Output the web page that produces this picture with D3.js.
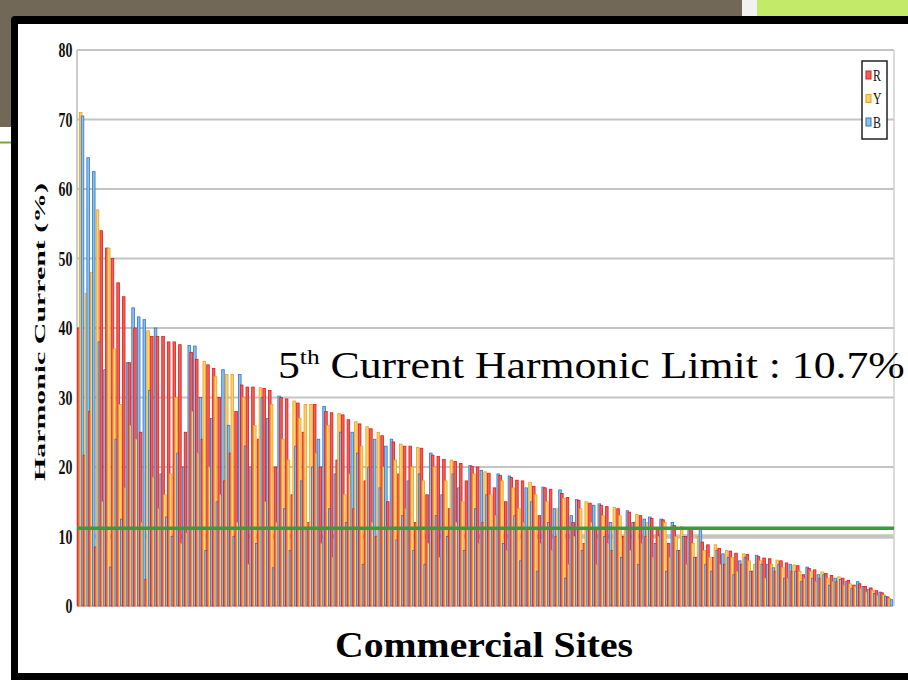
<!DOCTYPE html>
<html><head><meta charset="utf-8">
<script src="https://cdn.jsdelivr.net/npm/d3@7"></script>
<style>body{margin:0;background:#fff}svg{display:block}text{font-family:'Liberation Serif','Times New Roman',serif}</style>
</head><body><svg id="c" width="908" height="680"></svg>
<script>
// Harmonic current (%) per commercial site, phases R, Y, B (sorted by largest phase)
const R = [
 40, 21.7, 28, 8.5, 54, 51.5, 50, 46.5, 44.5, 35,
 40, 25, 3.8, 38.8, 38.8, 38.8, 38, 38, 37.6, 25,
 36.5, 35.5, 24, 34.7, 34.2, 30, 18, 22, 28, 31.8,
 31.5, 31.5, 24, 31.3, 31, 20, 30, 29.8, 16, 29.2,
 25, 12, 29, 20, 28, 27.8, 21, 27.5, 26.8, 14,
 26.2, 18, 25.5, 10, 24.5, 15, 23.6, 19, 23, 23,
 12, 22.7, 16, 21.7, 21.5, 21.1, 14, 20.8, 20.5, 18,
 20.1, 20, 12, 19.1, 17, 18.8, 15, 18.5, 18.1, 18,
 11, 17.2, 13, 17, 16.8, 10, 16.2, 15.6, 12, 15.2,
 9, 14.8, 11, 14.5, 14.3, 8, 14, 10, 13.5, 12,
 13, 10, 12.6, 11, 12.4, 9, 11.6, 8, 10, 11.3,
 7, 9.2, 8.8, 7, 8.3, 6, 7.9, 7.6, 6, 7.4,
 5, 7.1, 6.9, 6.8, 5, 6.5, 6.2, 5, 5.8, 4.5,
 5.4, 5.2, 4, 4.7, 4.4, 3.5, 4, 3.7, 3, 3.2,
 2.8, 2.6, 2.2, 1.9, 1.3
];
const Y = [
 71, 45, 48, 57, 15, 51.5, 37, 29, 17, 26,
 24, 12, 39.6, 18.5, 14, 16, 19, 30, 9, 10.5,
 28, 22, 35.2, 20, 33, 16, 33.3, 33.3, 12, 30,
 6, 26, 31.4, 15, 29, 12, 24, 21, 29.5, 27,
 29, 29, 22, 9, 26, 7, 27.7, 16, 19, 26.5,
 23, 25.8, 12, 25, 20, 11, 21, 23.3, 14, 20,
 22.8, 18, 9, 20, 7, 18, 21, 12, 15, 11,
 19, 9, 19.3, 16, 13, 18, 8, 17, 14, 12,
 17.8, 16, 9, 15, 8, 14, 15.5, 6, 10, 14,
 15, 12, 6, 13, 9, 14.2, 13, 11, 8, 13.2,
 9, 12, 7, 10, 12, 7, 10, 11.4, 6, 9,
 10, 8, 7, 8.8, 6, 8, 7, 5, 7.5, 6.5,
 6, 6.5, 4, 6, 6.6, 5.5, 4, 5.9, 5, 4,
 5, 3.5, 4.9, 4, 3.5, 4.2, 3, 3.2, 2.8, 2.5,
 2, 2.2, 1.5, 1.6, 1.1
];
const B = [
 70.5, 64.5, 62.5, 38, 34, 5.6, 24, 12.5, 35, 42.9,
 41.6, 41.2, 31, 40, 19, 12.8, 10, 22, 20, 37.5,
 37.4, 30, 8, 27, 15, 34, 26, 10, 33.3, 23,
 20, 9, 30, 27, 5.5, 30.2, 14, 8, 23, 18,
 11, 20, 24, 28.7, 14, 19, 25, 12, 25, 22,
 6, 20, 24, 17, 23, 24, 9.5, 13, 18, 8,
 19, 6, 22, 13, 16, 10, 19, 17, 8, 20.2,
 14, 19.5, 16, 11, 19, 9, 18.7, 13, 6.5, 17,
 15, 5, 17.1, 12, 14, 16.7, 4, 13, 15.3, 8,
 11, 14.5, 14.7, 10, 12, 11, 7, 13.7, 12, 6,
 12.5, 12.8, 9, 12.5, 5, 12, 8, 10, 11.3, 7,
 11.2, 6, 5, 8, 7.5, 7, 4.5, 6.5, 7, 5,
 7.3, 6, 6, 5.5, 6, 4, 6, 5, 3.5, 5.6,
 4, 4.5, 4.5, 3, 4, 3.8, 3.5, 2.5, 3.5, 2.8,
 2.4, 1.8, 2, 1.4, 0.9
];
const seriesNames = ["R", "Y", "B"];
const yTicks = [0, 10, 20, 30, 40, 50, 60, 70, 80];
const limitLine = 11.2;
const sites = R.map((_, i) => "Site " + (i + 1));

const colors = {
  R: {fill: "#f0605a", stroke: "#e01a16"},
  Y: {fill: "#fad36a", stroke: "#ef9c22"},
  B: {fill: "#8cc0ee", stroke: "#2f74c4"}
};
const values = {R, Y, B};

const svg = d3.select("#c");
// slide decoration
svg.append("rect").attr("x", 0).attr("y", 0).attr("width", 742).attr("height", 127).attr("fill", "#716857");
svg.append("rect").attr("x", 742).attr("y", 0).attr("width", 15).attr("height", 20).attr("fill", "#f1f1f1");
svg.append("rect").attr("x", 757).attr("y", 0).attr("width", 151).attr("height", 20).attr("fill", "#c3ea68");
svg.append("line").attr("x1", 0).attr("x2", 14).attr("y1", 142.5).attr("y2", 142.5).attr("stroke", "#7ea43a").attr("stroke-width", 2);
// frame
svg.append("rect").attr("x", 11).attr("y", 16).attr("width", 960).attr("height", 700).attr("rx", 4).attr("fill", "#000");
svg.append("rect").attr("x", 18).attr("y", 24).attr("width", 950).attr("height", 649).attr("fill", "#fff");

const x0 = 77, x1 = 894, yTop = 50, yBot = 606;
const y = d3.scaleLinear().domain([0, 80]).range([yBot, yTop]);
const x = d3.scaleBand().domain(sites).range([x0 + 0.5, x1 - 2]);
const xs = d3.scaleBand().domain(seriesNames).range([0, x.bandwidth()]);

// gridlines
svg.append("g").selectAll("line").data(yTicks.filter(d => d > 0)).join("line")
  .attr("x1", x0).attr("x2", x1).attr("y1", d => y(d)).attr("y2", d => y(d))
  .attr("stroke", "#c4c4c4").attr("stroke-width", d => d === 10 ? 4.5 : 2);
svg.append("line").attr("x1", x0).attr("x2", x0).attr("y1", yTop).attr("y2", yBot).attr("stroke", "#bdbdbd").attr("stroke-width", 1.5);
svg.append("line").attr("x1", x1).attr("x2", x1).attr("y1", yTop).attr("y2", yBot).attr("stroke", "#cfcfcf").attr("stroke-width", 1.5);

// axis labels
const ax = svg.append("g").attr("transform", `translate(${x0},0)`)
  .call(d3.axisLeft(y).tickValues(yTicks).tickSize(0).tickPadding(7).tickFormat(d3.format("d")));
ax.select(".domain").remove();
ax.selectAll("text").style("font-family", "'Liberation Serif', serif").attr("font-weight", "bold")
  .attr("font-size", 21).attr("fill", "#111").attr("transform", "scale(0.66,1)");

// bars (clustered, slight overlap)
const w = xs.bandwidth() + 0.7;
const barData = [];
sites.forEach((s, i) => seriesNames.forEach(k => barData.push({site: s, key: k, v: values[k][i]})));
svg.append("g").selectAll("rect").data(barData).join("rect")
  .attr("x", d => x(d.site) + xs(d.key))
  .attr("y", d => y(d.v))
  .attr("width", w)
  .attr("height", d => y(0) - y(d.v))
  .attr("fill", d => colors[d.key].fill)
  .attr("stroke", d => colors[d.key].stroke)
  .attr("stroke-width", 0.8);

// limit line
svg.append("line").attr("x1", x0).attr("x2", x1).attr("y1", y(limitLine)).attr("y2", y(limitLine))
  .attr("stroke", "#3a9b3e").attr("stroke-width", 3.5);

// annotation
const ann = svg.append("text").attr("x", 278).attr("y", 378)
  .style("font-family", "'Liberation Serif', 'Times New Roman', serif").attr("font-size", 38).attr("fill", "#000");
ann.append("tspan").text("5");
ann.append("tspan").attr("font-size", 22).attr("dy", -14).text("th");
ann.append("tspan").attr("dy", 14).text(" Current Harmonic Limit : 10.7%");
const aw = ann.node().getBBox().width || 627;
const sx = 627 / aw;
ann.attr("transform", `translate(${278 * (1 - sx)},0) scale(${sx},1)`);

// legend
const lg = svg.append("g");
lg.append("rect").attr("x", 862).attr("y", 61).attr("width", 25).attr("height", 78)
  .attr("fill", "#fff").attr("stroke", "#222").attr("stroke-width", 1.5);
seriesNames.forEach((k, i) => {
  const cy = 75 + i * 23.5;
  lg.append("rect").attr("x", 866).attr("y", cy - 4).attr("width", 5).attr("height", 8)
    .attr("fill", colors[k].fill).attr("stroke", colors[k].stroke).attr("stroke-width", 1);
  lg.append("text").attr("x", 873).attr("y", cy + 6).style("font-family", "'Liberation Serif', serif")
    .attr("font-size", 17).attr("fill", "#111").attr("transform", `translate(${873 * 0.3},0) scale(0.7,1)`).text(k);
});

// axis titles
svg.append("text").attr("transform", "translate(40,332) rotate(-90)").attr("text-anchor", "middle")
  .attr("dominant-baseline", "central")
  .style("font-family", "'Liberation Serif', serif").attr("font-weight", "bold").attr("font-size", 14)
  .attr("textLength", 298).attr("lengthAdjust", "spacingAndGlyphs").text("Harmonic Current (%)");
svg.append("text").attr("x", 484).attr("y", 657).attr("text-anchor", "middle")
  .style("font-family", "'Liberation Serif', serif").attr("font-weight", "bold").attr("font-size", 36)
  .attr("textLength", 298).attr("lengthAdjust", "spacingAndGlyphs").text("Commercial Sites");
</script></body></html>
